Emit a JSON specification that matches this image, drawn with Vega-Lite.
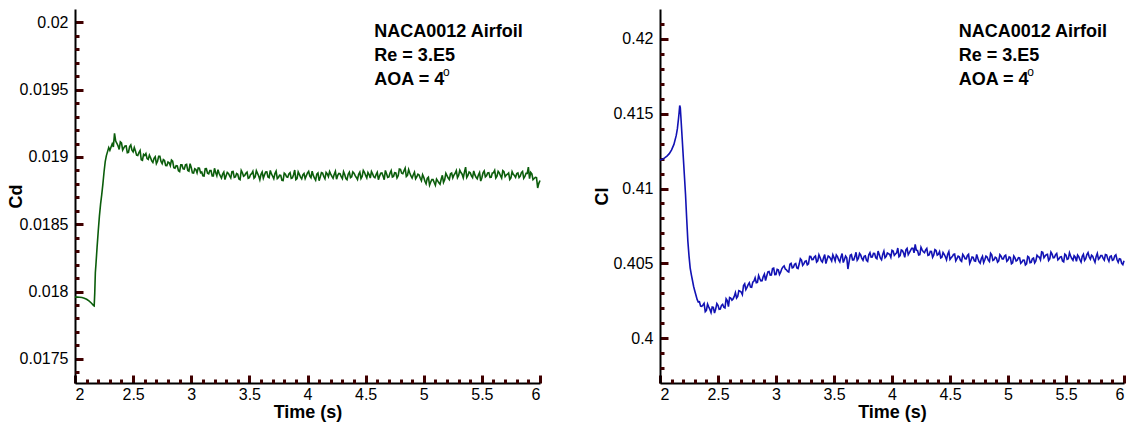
{
"$schema": "https://vega.github.io/schema/vega-lite/v6.json",
"background": "white",
"padding": {"left": 7, "top": 9, "right": 5, "bottom": 2},
"spacing": 120,
"bounds": "flush",
"config": {
  "view": {"stroke": null},
  "font": "Liberation Sans",
  "axis": {"grid": false, "domainColor": "black", "domainWidth": 2, "labelColor": "black", "labelFont": "Liberation Sans", "labelFontSize": 16, "titleFont": "Liberation Sans", "titleFontSize": 18, "titleFontWeight": "bold", "titleColor": "black"}
},
"datasets": {
"ts": [
{"t":2.00,"cd":0.017958,"cl":0.41190},{"t":2.02,"cd":0.017958,"cl":0.41195},{"t":2.04,"cd":0.017957,"cl":0.41205},{"t":2.06,"cd":0.017955,"cl":0.41217},{"t":2.08,"cd":0.017950,"cl":0.41233},{"t":2.10,"cd":0.017942,"cl":0.41258},{"t":2.12,"cd":0.017930,"cl":0.41295},{"t":2.14,"cd":0.017915,"cl":0.41355},{"t":2.15,"cd":0.017905,"cl":0.41400},{"t":2.16,"cd":0.017895,"cl":0.41470},{"t":2.165,"cd":0.017893,"cl":0.41510},{"t":2.17,"cd":0.017990,"cl":0.41555},{"t":2.175,"cd":0.018140,"cl":0.41540},{"t":2.18,"cd":0.018200,"cl":0.41480},{"t":2.19,"cd":0.018330,"cl":0.41350},{"t":2.20,"cd":0.018450,"cl":0.41220},{"t":2.21,"cd":0.018560,"cl":0.41090},{"t":2.22,"cd":0.018650,"cl":0.40960},{"t":2.23,"cd":0.018720,"cl":0.40800},{"t":2.24,"cd":0.018800,"cl":0.40650},{"t":2.25,"cd":0.018890,"cl":0.40550},{"t":2.26,"cd":0.018965,"cl":0.40470},{"t":2.27,"cd":0.019010,"cl":0.40425},{"t":2.28,"cd":0.019040,"cl":0.40385},{"t":2.29,"cd":0.019070,"cl":0.40345},{"t":2.30,"cd":0.019050,"cl":0.40315},
{"t":2.32,"cd":0.019098,"cl":0.40259},{"t":2.34,"cd":0.019175,"cl":0.40243},{"t":2.36,"cd":0.019102,"cl":0.40212},{"t":2.38,"cd":0.019056,"cl":0.40232},{"t":2.40,"cd":0.019105,"cl":0.40186},{"t":2.42,"cd":0.019068,"cl":0.40209},{"t":2.44,"cd":0.019082,"cl":0.40171},{"t":2.46,"cd":0.019035,"cl":0.40206},{"t":2.48,"cd":0.019089,"cl":0.40194},{"t":2.50,"cd":0.019038,"cl":0.40219},
{"t":2.52,"cd":0.019044,"cl":0.40194},{"t":2.54,"cd":0.019011,"cl":0.40226},{"t":2.56,"cd":0.019048,"cl":0.40202},{"t":2.58,"cd":0.018975,"cl":0.40251},{"t":2.60,"cd":0.019011,"cl":0.40271},{"t":2.62,"cd":0.018988,"cl":0.40254},{"t":2.64,"cd":0.019014,"cl":0.40279},{"t":2.66,"cd":0.018971,"cl":0.40268},{"t":2.68,"cd":0.018990,"cl":0.40317},{"t":2.70,"cd":0.018951,"cl":0.40308},
{"t":2.72,"cd":0.019006,"cl":0.40352},{"t":2.74,"cd":0.018967,"cl":0.40324},{"t":2.76,"cd":0.018981,"cl":0.40357},{"t":2.78,"cd":0.018936,"cl":0.40341},{"t":2.80,"cd":0.018963,"cl":0.40374},{"t":2.82,"cd":0.018935,"cl":0.40403},{"t":2.84,"cd":0.018969,"cl":0.40373},{"t":2.86,"cd":0.018917,"cl":0.40398},{"t":2.88,"cd":0.018933,"cl":0.40383},{"t":2.90,"cd":0.018892,"cl":0.40428},
{"t":2.92,"cd":0.018941,"cl":0.40415},{"t":2.94,"cd":0.018910,"cl":0.40445},{"t":2.96,"cd":0.018945,"cl":0.40422},{"t":2.98,"cd":0.018895,"cl":0.40468},{"t":3.00,"cd":0.018922,"cl":0.40425},{"t":3.02,"cd":0.018880,"cl":0.40457},{"t":3.04,"cd":0.018907,"cl":0.40441},{"t":3.06,"cd":0.018919,"cl":0.40476},{"t":3.08,"cd":0.018883,"cl":0.40462},{"t":3.10,"cd":0.018860,"cl":0.40446},
{"t":3.12,"cd":0.018912,"cl":0.40494},{"t":3.14,"cd":0.018879,"cl":0.40470},{"t":3.16,"cd":0.018899,"cl":0.40494},{"t":3.18,"cd":0.018859,"cl":0.40469},{"t":3.20,"cd":0.018916,"cl":0.40495},{"t":3.22,"cd":0.018861,"cl":0.40521},{"t":3.24,"cd":0.018877,"cl":0.40496},{"t":3.26,"cd":0.018843,"cl":0.40516},{"t":3.28,"cd":0.018888,"cl":0.40496},{"t":3.30,"cd":0.018860,"cl":0.40545},
{"t":3.32,"cd":0.018878,"cl":0.40526},{"t":3.34,"cd":0.018844,"cl":0.40549},{"t":3.36,"cd":0.018892,"cl":0.40517},{"t":3.38,"cd":0.018852,"cl":0.40539},{"t":3.40,"cd":0.018872,"cl":0.40508},{"t":3.42,"cd":0.018831,"cl":0.40558},{"t":3.44,"cd":0.018882,"cl":0.40526},{"t":3.46,"cd":0.018863,"cl":0.40544},{"t":3.48,"cd":0.018888,"cl":0.40516},{"t":3.50,"cd":0.018846,"cl":0.40538},
{"t":3.52,"cd":0.018876,"cl":0.40556},{"t":3.54,"cd":0.018842,"cl":0.40523},{"t":3.56,"cd":0.018898,"cl":0.40543},{"t":3.58,"cd":0.018859,"cl":0.40505},{"t":3.60,"cd":0.018871,"cl":0.40549},{"t":3.62,"cd":0.018842,"cl":0.40462},{"t":3.64,"cd":0.018889,"cl":0.40554},{"t":3.66,"cd":0.018852,"cl":0.40523},{"t":3.68,"cd":0.018900,"cl":0.40545},{"t":3.70,"cd":0.018857,"cl":0.40520},
{"t":3.72,"cd":0.018877,"cl":0.40566},{"t":3.74,"cd":0.018839,"cl":0.40533},{"t":3.76,"cd":0.018865,"cl":0.40547},{"t":3.78,"cd":0.018826,"cl":0.40520},{"t":3.80,"cd":0.018880,"cl":0.40557},{"t":3.82,"cd":0.018852,"cl":0.40541},{"t":3.84,"cd":0.018875,"cl":0.40567},{"t":3.86,"cd":0.018841,"cl":0.40537},{"t":3.88,"cd":0.018868,"cl":0.40582},{"t":3.90,"cd":0.018831,"cl":0.40534},
{"t":3.92,"cd":0.018889,"cl":0.40560},{"t":3.94,"cd":0.018850,"cl":0.40537},{"t":3.96,"cd":0.018867,"cl":0.40569},{"t":3.98,"cd":0.018840,"cl":0.40560},{"t":4.00,"cd":0.018881,"cl":0.40587},{"t":4.02,"cd":0.018858,"cl":0.40553},{"t":4.04,"cd":0.018895,"cl":0.40570},{"t":4.06,"cd":0.018842,"cl":0.40544},{"t":4.08,"cd":0.018872,"cl":0.40589},{"t":4.10,"cd":0.018824,"cl":0.40568},
{"t":4.12,"cd":0.018884,"cl":0.40590},{"t":4.14,"cd":0.018855,"cl":0.40558},{"t":4.16,"cd":0.018885,"cl":0.40586},{"t":4.18,"cd":0.018854,"cl":0.40601},{"t":4.20,"cd":0.018873,"cl":0.40627},{"t":4.22,"cd":0.018842,"cl":0.40586},{"t":4.24,"cd":0.018893,"cl":0.40558},{"t":4.26,"cd":0.018863,"cl":0.40590},{"t":4.28,"cd":0.018875,"cl":0.40571},{"t":4.30,"cd":0.018839,"cl":0.40599},
{"t":4.32,"cd":0.018869,"cl":0.40556},{"t":4.34,"cd":0.018832,"cl":0.40579},{"t":4.36,"cd":0.018887,"cl":0.40556},{"t":4.38,"cd":0.018853,"cl":0.40586},{"t":4.40,"cd":0.018880,"cl":0.40561},{"t":4.42,"cd":0.018848,"cl":0.40536},{"t":4.44,"cd":0.018872,"cl":0.40572},{"t":4.46,"cd":0.018840,"cl":0.40544},{"t":4.48,"cd":0.018900,"cl":0.40561},{"t":4.50,"cd":0.018863,"cl":0.40526},
{"t":4.52,"cd":0.018885,"cl":0.40545},{"t":4.54,"cd":0.018843,"cl":0.40562},{"t":4.56,"cd":0.018874,"cl":0.40531},{"t":4.58,"cd":0.018846,"cl":0.40543},{"t":4.60,"cd":0.018886,"cl":0.40513},{"t":4.62,"cd":0.018858,"cl":0.40548},{"t":4.64,"cd":0.018882,"cl":0.40530},{"t":4.66,"cd":0.018831,"cl":0.40560},{"t":4.68,"cd":0.018876,"cl":0.40519},{"t":4.70,"cd":0.018852,"cl":0.40539},
{"t":4.72,"cd":0.018899,"cl":0.40514},{"t":4.74,"cd":0.018856,"cl":0.40534},{"t":4.76,"cd":0.018882,"cl":0.40501},{"t":4.78,"cd":0.018860,"cl":0.40547},{"t":4.80,"cd":0.018908,"cl":0.40524},{"t":4.82,"cd":0.018876,"cl":0.40542},{"t":4.84,"cd":0.018917,"cl":0.40512},{"t":4.86,"cd":0.018863,"cl":0.40556},{"t":4.88,"cd":0.018881,"cl":0.40524},{"t":4.90,"cd":0.018843,"cl":0.40536},
{"t":4.92,"cd":0.018887,"cl":0.40517},{"t":4.94,"cd":0.018853,"cl":0.40548},{"t":4.96,"cd":0.018866,"cl":0.40530},{"t":4.98,"cd":0.018824,"cl":0.40555},{"t":5.00,"cd":0.018849,"cl":0.40521},{"t":5.02,"cd":0.018801,"cl":0.40539},{"t":5.04,"cd":0.018849,"cl":0.40503},{"t":5.06,"cd":0.018814,"cl":0.40536},{"t":5.08,"cd":0.018832,"cl":0.40521},{"t":5.10,"cd":0.018790,"cl":0.40536},
{"t":5.12,"cd":0.018822,"cl":0.40508},{"t":5.14,"cd":0.018797,"cl":0.40521},{"t":5.16,"cd":0.018864,"cl":0.40496},{"t":5.18,"cd":0.018830,"cl":0.40541},{"t":5.20,"cd":0.018861,"cl":0.40507},{"t":5.22,"cd":0.018832,"cl":0.40535},{"t":5.24,"cd":0.018881,"cl":0.40516},{"t":5.26,"cd":0.018866,"cl":0.40545},{"t":5.28,"cd":0.018899,"cl":0.40523},{"t":5.30,"cd":0.018863,"cl":0.40573},
{"t":5.32,"cd":0.018884,"cl":0.40549},{"t":5.34,"cd":0.018845,"cl":0.40560},{"t":5.36,"cd":0.018925,"cl":0.40530},{"t":5.38,"cd":0.018863,"cl":0.40561},{"t":5.40,"cd":0.018883,"cl":0.40538},{"t":5.42,"cd":0.018847,"cl":0.40566},{"t":5.44,"cd":0.018867,"cl":0.40531},{"t":5.46,"cd":0.018838,"cl":0.40544},{"t":5.48,"cd":0.018884,"cl":0.40510},{"t":5.50,"cd":0.018846,"cl":0.40555},
{"t":5.52,"cd":0.018896,"cl":0.40530},{"t":5.54,"cd":0.018860,"cl":0.40549},{"t":5.56,"cd":0.018884,"cl":0.40520},{"t":5.58,"cd":0.018849,"cl":0.40541},{"t":5.60,"cd":0.018883,"cl":0.40555},{"t":5.62,"cd":0.018844,"cl":0.40524},{"t":5.64,"cd":0.018893,"cl":0.40547},{"t":5.66,"cd":0.018861,"cl":0.40519},{"t":5.68,"cd":0.018899,"cl":0.40559},{"t":5.70,"cd":0.018854,"cl":0.40542},
{"t":5.72,"cd":0.018872,"cl":0.40554},{"t":5.74,"cd":0.018833,"cl":0.40525},{"t":5.76,"cd":0.018891,"cl":0.40546},{"t":5.78,"cd":0.018862,"cl":0.40527},{"t":5.80,"cd":0.018877,"cl":0.40552},{"t":5.82,"cd":0.018847,"cl":0.40533},{"t":5.84,"cd":0.018884,"cl":0.40559},{"t":5.86,"cd":0.018841,"cl":0.40530},{"t":5.88,"cd":0.018879,"cl":0.40546},{"t":5.90,"cd":0.018925,"cl":0.40520},
{"t":5.92,"cd":0.018886,"cl":0.40549},{"t":5.94,"cd":0.018832,"cl":0.40524},{"t":5.96,"cd":0.018849,"cl":0.40531},{"t":5.98,"cd":0.018770,"cl":0.40500},{"t":6.00,"cd":0.018825,"cl":0.40517},
{"t":2.33,"cd":0.019074,"cl":0.40241},{"t":2.35,"cd":0.019118,"cl":0.40214},{"t":2.37,"cd":0.019083,"cl":0.40221},{"t":2.39,"cd":0.019113,"cl":0.40177},{"t":2.41,"cd":0.019052,"cl":0.40228},{"t":2.43,"cd":0.019081,"cl":0.40192},{"t":2.45,"cd":0.019032,"cl":0.40208},{"t":2.47,"cd":0.019077,"cl":0.40167},{"t":2.49,"cd":0.019050,"cl":0.40231},{"t":2.51,"cd":0.019070,"cl":0.40193},
{"t":2.53,"cd":0.019014,"cl":0.40219},{"t":2.55,"cd":0.019033,"cl":0.40206},{"t":2.57,"cd":0.018979,"cl":0.40263},{"t":2.59,"cd":0.019019,"cl":0.40210},{"t":2.61,"cd":0.019025,"cl":0.40267},{"t":2.63,"cd":0.018982,"cl":0.40262},{"t":2.65,"cd":0.018994,"cl":0.40304},{"t":2.67,"cd":0.018959,"cl":0.40279},{"t":2.69,"cd":0.019002,"cl":0.40314},{"t":2.71,"cd":0.018969,"cl":0.40291},
{"t":2.73,"cd":0.019006,"cl":0.40363},{"t":2.75,"cd":0.018951,"cl":0.40339},{"t":2.77,"cd":0.018974,"cl":0.40370},{"t":2.79,"cd":0.018935,"cl":0.40340},{"t":2.81,"cd":0.018957,"cl":0.40382},{"t":2.83,"cd":0.018977,"cl":0.40370},{"t":2.85,"cd":0.018920,"cl":0.40418},{"t":2.87,"cd":0.018935,"cl":0.40382},{"t":2.89,"cd":0.018898,"cl":0.40412},{"t":2.91,"cd":0.018941,"cl":0.40385},
{"t":2.93,"cd":0.018912,"cl":0.40443},{"t":2.95,"cd":0.018941,"cl":0.40421},{"t":2.97,"cd":0.018900,"cl":0.40465},{"t":2.99,"cd":0.018950,"cl":0.40424},{"t":3.01,"cd":0.018882,"cl":0.40460},{"t":3.03,"cd":0.018913,"cl":0.40426},{"t":3.05,"cd":0.018882,"cl":0.40463},{"t":3.07,"cd":0.018917,"cl":0.40483},{"t":3.09,"cd":0.018888,"cl":0.40457},{"t":3.11,"cd":0.018858,"cl":0.40442},
{"t":3.13,"cd":0.018913,"cl":0.40500},{"t":3.15,"cd":0.018875,"cl":0.40473},{"t":3.17,"cd":0.018899,"cl":0.40499},{"t":3.19,"cd":0.018859,"cl":0.40465},{"t":3.21,"cd":0.018885,"cl":0.40530},{"t":3.23,"cd":0.018906,"cl":0.40486},{"t":3.25,"cd":0.018859,"cl":0.40513},{"t":3.27,"cd":0.018873,"cl":0.40490},{"t":3.29,"cd":0.018832,"cl":0.40546},{"t":3.31,"cd":0.018885,"cl":0.40525},
{"t":3.33,"cd":0.018860,"cl":0.40543},{"t":3.35,"cd":0.018890,"cl":0.40509},{"t":3.37,"cd":0.018848,"cl":0.40557},{"t":3.39,"cd":0.018877,"cl":0.40517},{"t":3.41,"cd":0.018836,"cl":0.40537},{"t":3.43,"cd":0.018900,"cl":0.40498},{"t":3.45,"cd":0.018857,"cl":0.40549},{"t":3.47,"cd":0.018879,"cl":0.40532},{"t":3.49,"cd":0.018842,"cl":0.40557},{"t":3.51,"cd":0.018870,"cl":0.40516},
{"t":3.53,"cd":0.018893,"cl":0.40545},{"t":3.55,"cd":0.018852,"cl":0.40510},{"t":3.57,"cd":0.018878,"cl":0.40565},{"t":3.59,"cd":0.018831,"cl":0.40525},{"t":3.61,"cd":0.018888,"cl":0.40537},{"t":3.63,"cd":0.018867,"cl":0.40509},{"t":3.65,"cd":0.018890,"cl":0.40559},{"t":3.67,"cd":0.018846,"cl":0.40523},{"t":3.69,"cd":0.018874,"cl":0.40574},{"t":3.71,"cd":0.018838,"cl":0.40532},
{"t":3.73,"cd":0.018895,"cl":0.40556},{"t":3.75,"cd":0.018848,"cl":0.40520},{"t":3.77,"cd":0.018863,"cl":0.40550},{"t":3.79,"cd":0.018825,"cl":0.40513},{"t":3.81,"cd":0.018872,"cl":0.40571},{"t":3.83,"cd":0.018849,"cl":0.40542},{"t":3.85,"cd":0.018884,"cl":0.40566},{"t":3.87,"cd":0.018844,"cl":0.40531},{"t":3.89,"cd":0.018903,"cl":0.40559},{"t":3.91,"cd":0.018839,"cl":0.40523},
{"t":3.93,"cd":0.018871,"cl":0.40582},{"t":3.95,"cd":0.018837,"cl":0.40546},{"t":3.97,"cd":0.018877,"cl":0.40564},{"t":3.99,"cd":0.018861,"cl":0.40540},{"t":4.01,"cd":0.018893,"cl":0.40582},{"t":4.03,"cd":0.018846,"cl":0.40562},{"t":4.05,"cd":0.018863,"cl":0.40602},{"t":4.07,"cd":0.018827,"cl":0.40552},{"t":4.09,"cd":0.018881,"cl":0.40585},{"t":4.11,"cd":0.018852,"cl":0.40540},
{"t":4.13,"cd":0.018880,"cl":0.40600},{"t":4.15,"cd":0.018838,"cl":0.40571},{"t":4.17,"cd":0.018874,"cl":0.40601},{"t":4.19,"cd":0.018892,"cl":0.40570},{"t":4.21,"cd":0.018856,"cl":0.40587},{"t":4.23,"cd":0.018871,"cl":0.40556},{"t":4.25,"cd":0.018835,"cl":0.40607},{"t":4.27,"cd":0.018877,"cl":0.40577},{"t":4.29,"cd":0.018853,"cl":0.40589},{"t":4.31,"cd":0.018891,"cl":0.40553},
{"t":4.33,"cd":0.018840,"cl":0.40580},{"t":4.35,"cd":0.018872,"cl":0.40540},{"t":4.37,"cd":0.018847,"cl":0.40592},{"t":4.39,"cd":0.018889,"cl":0.40555},{"t":4.41,"cd":0.018861,"cl":0.40578},{"t":4.43,"cd":0.018833,"cl":0.40541},{"t":4.45,"cd":0.018888,"cl":0.40560},{"t":4.47,"cd":0.018856,"cl":0.40523},{"t":4.49,"cd":0.018886,"cl":0.40578},{"t":4.51,"cd":0.018844,"cl":0.40537},
{"t":4.53,"cd":0.018870,"cl":0.40559},{"t":4.55,"cd":0.018892,"cl":0.40517},{"t":4.57,"cd":0.018853,"cl":0.40548},{"t":4.59,"cd":0.018869,"cl":0.40520},{"t":4.61,"cd":0.018831,"cl":0.40560},{"t":4.63,"cd":0.018880,"cl":0.40531},{"t":4.65,"cd":0.018858,"cl":0.40552},{"t":4.67,"cd":0.018900,"cl":0.40500},{"t":4.69,"cd":0.018848,"cl":0.40542},{"t":4.71,"cd":0.018880,"cl":0.40517},
{"t":4.73,"cd":0.018851,"cl":0.40559},{"t":4.75,"cd":0.018883,"cl":0.40511},{"t":4.77,"cd":0.018844,"cl":0.40532},{"t":4.79,"cd":0.018910,"cl":0.40505},{"t":4.81,"cd":0.018880,"cl":0.40548},{"t":4.83,"cd":0.018898,"cl":0.40522},{"t":4.85,"cd":0.018854,"cl":0.40567},{"t":4.87,"cd":0.018906,"cl":0.40519},{"t":4.89,"cd":0.018859,"cl":0.40541},{"t":4.91,"cd":0.018868,"cl":0.40508},
{"t":4.93,"cd":0.018838,"cl":0.40558},{"t":4.95,"cd":0.018872,"cl":0.40530},{"t":4.97,"cd":0.018842,"cl":0.40549},{"t":4.99,"cd":0.018869,"cl":0.40513},{"t":5.01,"cd":0.018819,"cl":0.40543},{"t":5.03,"cd":0.018840,"cl":0.40497},{"t":5.05,"cd":0.018791,"cl":0.40549},{"t":5.07,"cd":0.018832,"cl":0.40516},{"t":5.09,"cd":0.018810,"cl":0.40538},{"t":5.11,"cd":0.018835,"cl":0.40500},
{"t":5.13,"cd":0.018808,"cl":0.40522},{"t":5.15,"cd":0.018834,"cl":0.40489},{"t":5.17,"cd":0.018811,"cl":0.40546},{"t":5.19,"cd":0.018879,"cl":0.40504},{"t":5.21,"cd":0.018843,"cl":0.40530},{"t":5.23,"cd":0.018875,"cl":0.40503},{"t":5.25,"cd":0.018845,"cl":0.40554},{"t":5.27,"cd":0.018879,"cl":0.40541},{"t":5.29,"cd":0.018846,"cl":0.40576},{"t":5.31,"cd":0.018902,"cl":0.40537},
{"t":5.33,"cd":0.018872,"cl":0.40558},{"t":5.35,"cd":0.018887,"cl":0.40519},{"t":5.37,"cd":0.018848,"cl":0.40575},{"t":5.39,"cd":0.018889,"cl":0.40537},{"t":5.41,"cd":0.018860,"cl":0.40557},{"t":5.43,"cd":0.018896,"cl":0.40523},{"t":5.45,"cd":0.018849,"cl":0.40543},{"t":5.47,"cd":0.018866,"cl":0.40516},{"t":5.49,"cd":0.018821,"cl":0.40562},{"t":5.51,"cd":0.018882,"cl":0.40526},
{"t":5.53,"cd":0.018852,"cl":0.40571},{"t":5.55,"cd":0.018882,"cl":0.40532},{"t":5.57,"cd":0.018848,"cl":0.40551},{"t":5.59,"cd":0.018881,"cl":0.40513},{"t":5.61,"cd":0.018900,"cl":0.40544},{"t":5.63,"cd":0.018857,"cl":0.40508},{"t":5.65,"cd":0.018882,"cl":0.40560},{"t":5.67,"cd":0.018843,"cl":0.40531},{"t":5.69,"cd":0.018891,"cl":0.40572},{"t":5.71,"cd":0.018866,"cl":0.40528},
{"t":5.73,"cd":0.018881,"cl":0.40547},{"t":5.75,"cd":0.018845,"cl":0.40507},{"t":5.77,"cd":0.018871,"cl":0.40566},{"t":5.79,"cd":0.018848,"cl":0.40536},{"t":5.81,"cd":0.018882,"cl":0.40552},{"t":5.83,"cd":0.018857,"cl":0.40521},{"t":5.85,"cd":0.018893,"cl":0.40557},{"t":5.87,"cd":0.018855,"cl":0.40513},{"t":5.89,"cd":0.018878,"cl":0.40550},{"t":5.91,"cd":0.018839,"cl":0.40524},
{"t":5.93,"cd":0.018875,"cl":0.40557},{"t":5.95,"cd":0.018840,"cl":0.40507},{"t":5.97,"cd":0.018847,"cl":0.40528},{"t":5.99,"cd":0.018804,"cl":0.40491}
],
"notesL": [{"t":4.575,"v":0.019892,"label":"NACA0012 Airfoil"},{"t":4.575,"v":0.0197135,"label":"Re = 3.E5"},{"t":4.575,"v":0.019535,"label":"AOA = 4"}],
"supL": [{"t":5.165,"v":0.019602,"label":"o"}],
"notesR": [{"t":4.575,"v":0.420128,"label":"NACA0012 Airfoil"},{"t":4.575,"v":0.418524,"label":"Re = 3.E5"},{"t":4.575,"v":0.41692,"label":"AOA = 4"}],
"supR": [{"t":5.165,"v":0.417521,"label":"o"}]
},
"hconcat": [
{
  "width": 465, "height": 374,
  "resolve": {"axis": {"x": "independent", "y": "independent"}},
  "layer": [
    {"data": {"name": "ts"},
     "mark": {"type": "line", "color": "#0b5d0b", "strokeWidth": 1.6},
     "encoding": {
       "x": {"field": "t", "type": "quantitative", "scale": {"domain": [2, 6], "nice": false, "zero": false},
             "axis": {"orient": "bottom", "values": [2, 2.5, 3, 3.5, 4, 4.5, 5, 5.5, 6], "format": "~g", "tickSize": -8, "tickColor": "#400000", "tickWidth": 3, "labelPadding": 11, "title": "Time (s)", "titleBaseline": "alphabetic", "titleY": 34}},
       "y": {"field": "cd", "type": "quantitative", "scale": {"domain": [0.01732, 0.0201], "nice": false, "zero": false},
             "axis": {"orient": "left", "values": [0.0175, 0.018, 0.0185, 0.019, 0.0195, 0.02], "format": "~g", "tickSize": -8, "tickColor": "#400000", "tickWidth": 3, "labelPadding": 15, "title": "Cd", "titleBaseline": "alphabetic", "titleX": -54, "titleY": 187}}
     }},
    {"data": {"name": "notesL"},
     "mark": {"type": "text", "align": "left", "baseline": "alphabetic", "font": "Liberation Sans", "fontSize": 18, "fontWeight": "bold", "color": "black"},
     "encoding": {
       "x": {"field": "t", "type": "quantitative", "scale": {"domain": [2, 6], "nice": false, "zero": false},
             "axis": {"orient": "bottom", "values": [2.1,2.2,2.3,2.4,2.6,2.7,2.8,2.9,3.1,3.2,3.3,3.4,3.6,3.7,3.8,3.9,4.1,4.2,4.3,4.4,4.6,4.7,4.8,4.9,5.1,5.2,5.3,5.4,5.6,5.7,5.8,5.9], "tickSize": -4, "tickColor": "#400000", "tickWidth": 3, "labels": false, "domain": false, "title": null}},
       "y": {"field": "v", "type": "quantitative", "scale": {"domain": [0.01732, 0.0201], "nice": false, "zero": false},
             "axis": {"orient": "left", "values": [0.0174,0.0176,0.0177,0.0178,0.0179,0.0181,0.0182,0.0183,0.0184,0.0186,0.0187,0.0188,0.0189,0.0191,0.0192,0.0193,0.0194,0.0196,0.0197,0.0198,0.0199], "tickSize": -4, "tickColor": "#400000", "tickWidth": 3, "labels": false, "domain": false, "title": null}},
       "text": {"field": "label"}
     }},
    {"data": {"name": "supL"},
     "mark": {"type": "text", "align": "left", "baseline": "alphabetic", "font": "Liberation Sans", "fontSize": 12, "color": "black"},
     "encoding": {
       "x": {"field": "t", "type": "quantitative", "scale": {"domain": [2, 6], "nice": false, "zero": false}, "axis": null},
       "y": {"field": "v", "type": "quantitative", "scale": {"domain": [0.01732, 0.0201], "nice": false, "zero": false}, "axis": null},
       "text": {"field": "label"}
     }}
  ]
},
{
  "width": 464, "height": 374,
  "resolve": {"axis": {"x": "independent", "y": "independent"}},
  "layer": [
    {"data": {"name": "ts"},
     "mark": {"type": "line", "color": "#1212b4", "strokeWidth": 1.6},
     "encoding": {
       "x": {"field": "t", "type": "quantitative", "scale": {"domain": [2, 6], "nice": false, "zero": false},
             "axis": {"orient": "bottom", "values": [2, 2.5, 3, 3.5, 4, 4.5, 5, 5.5, 6], "format": "~g", "tickSize": -8, "tickColor": "#400000", "tickWidth": 3, "labelPadding": 11, "title": "Time (s)", "titleBaseline": "alphabetic", "titleY": 34}},
       "y": {"field": "cl", "type": "quantitative", "scale": {"domain": [0.397, 0.422], "nice": false, "zero": false},
             "axis": {"orient": "left", "values": [0.4, 0.405, 0.41, 0.415, 0.42], "format": "~g", "tickSize": -8, "tickColor": "#400000", "tickWidth": 3, "labelPadding": 15, "title": "Cl", "titleBaseline": "alphabetic", "titleX": -53, "titleY": 187}}
     }},
    {"data": {"name": "notesR"},
     "mark": {"type": "text", "align": "left", "baseline": "alphabetic", "font": "Liberation Sans", "fontSize": 18, "fontWeight": "bold", "color": "black"},
     "encoding": {
       "x": {"field": "t", "type": "quantitative", "scale": {"domain": [2, 6], "nice": false, "zero": false},
             "axis": {"orient": "bottom", "values": [2.1,2.2,2.3,2.4,2.6,2.7,2.8,2.9,3.1,3.2,3.3,3.4,3.6,3.7,3.8,3.9,4.1,4.2,4.3,4.4,4.6,4.7,4.8,4.9,5.1,5.2,5.3,5.4,5.6,5.7,5.8,5.9], "tickSize": -4, "tickColor": "#400000", "tickWidth": 3, "labels": false, "domain": false, "title": null}},
       "y": {"field": "v", "type": "quantitative", "scale": {"domain": [0.397, 0.422], "nice": false, "zero": false},
             "axis": {"orient": "left", "values": [0.398,0.399,0.401,0.402,0.403,0.404,0.406,0.407,0.408,0.409,0.411,0.412,0.413,0.414,0.416,0.417,0.418,0.419,0.421], "tickSize": -4, "tickColor": "#400000", "tickWidth": 3, "labels": false, "domain": false, "title": null}},
       "text": {"field": "label"}
     }},
    {"data": {"name": "supR"},
     "mark": {"type": "text", "align": "left", "baseline": "alphabetic", "font": "Liberation Sans", "fontSize": 12, "color": "black"},
     "encoding": {
       "x": {"field": "t", "type": "quantitative", "scale": {"domain": [2, 6], "nice": false, "zero": false}, "axis": null},
       "y": {"field": "v", "type": "quantitative", "scale": {"domain": [0.397, 0.422], "nice": false, "zero": false}, "axis": null},
       "text": {"field": "label"}
     }}
  ]
}
]
}
